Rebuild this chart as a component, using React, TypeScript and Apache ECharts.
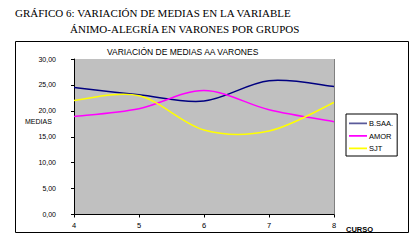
import React, { useEffect, useRef } from "react";
import * as echarts from "echarts";

const cursos = [4, 5, 6, 7, 8];
const bsaa = [24.5, 23.1, 21.9, 25.8, 24.7];
const amor = [18.9, 20.4, 23.9, 20.2, 17.9];
const sjt = [22.0, 22.9, 16.3, 16.1, 21.6];
const yTicks = [0, 5, 10, 15, 20, 25, 30];

const toPairs = (vals: number[]) => cursos.map((c, i) => [c, vals[i]]);

const LEGEND_ICON = "path://M0,0h18v0.01h-18z M0,3.6h18v1.6h-18z M0,8.99h18v0.01h-18z";

export default function App() {
  const ref = useRef<HTMLDivElement>(null);
  useEffect(() => {
    document.body.style.margin = "0";
    const chart = echarts.init(ref.current!, null, { renderer: "svg" });
    const mkSeries = (name: string, vals: number[], color: string) => ({
      name,
      type: "custom",
      data: toPairs(vals),
      encode: { x: 0, y: 1 },
      itemStyle: { color },
      clip: true,
      renderItem: (params: any, api: any) => {
        const i = params.dataIndex;
        const n = vals.length;
        if (i >= n - 1) return null;
        const pt = (j: number) => {
          const k = Math.max(0, Math.min(n - 1, j));
          return api.coord([cursos[k], vals[k]]);
        };
        const p0 = pt(i - 1);
        const p1 = pt(i);
        const p2 = pt(i + 1);
        const p3 = pt(i + 2);
        const t = 1 / 6;
        return {
          type: "bezierCurve",
          shape: {
            x1: p1[0],
            y1: p1[1],
            x2: p2[0],
            y2: p2[1],
            cpx1: p1[0] + (p2[0] - p0[0]) * t,
            cpy1: p1[1] + (p2[1] - p0[1]) * t,
            cpx2: p2[0] - (p3[0] - p1[0]) * t,
            cpy2: p2[1] - (p3[1] - p1[1]) * t,
          },
          style: { stroke: color, lineWidth: 1.5, fill: "none" },
        };
      },
    });
    chart.setOption({
      animation: false,
      backgroundColor: "#ffffff",
      grid: { left: 74, right: 83, top: 59, bottom: 27.5, containLabel: false, show: true, backgroundColor: "#c0c0c0", borderWidth: 0 },
      xAxis: {
        type: "value",
        min: 4,
        max: 8,
        interval: 1,
        axisLine: { show: true, lineStyle: { color: "#000", width: 1 } },
        axisTick: { show: true, length: 3, lineStyle: { color: "#000" } },
        axisLabel: { fontFamily: "Liberation Sans", fontSize: 7.5, color: "#000", margin: 7 },
        splitLine: { show: false },
      },
      yAxis: {
        type: "value",
        min: yTicks[0],
        max: yTicks[yTicks.length - 1],
        interval: 5,
        axisLine: { show: true, lineStyle: { color: "#000", width: 1 } },
        axisTick: { show: true, length: 3, lineStyle: { color: "#000" } },
        axisLabel: {
          fontFamily: "Liberation Sans",
          fontSize: 7,
          color: "#000",
          margin: 18,
          formatter: (v: number) => v.toFixed(2).replace(".", ","),
        },
        splitLine: { show: false },
      },
      legend: {
        orient: "vertical",
        left: 346,
        top: 114,
        padding: [5, 4, 3, 3],
        borderColor: "#000",
        borderWidth: 1,
        backgroundColor: "#fff",
        itemWidth: 18,
        itemHeight: 9,
        itemGap: 3.5,
        textStyle: { fontFamily: "Liberation Sans", fontSize: 7.5, color: "#000", padding: [0, 0, 0, -3] },
        data: [
          { name: "B.SAA.", icon: LEGEND_ICON, itemStyle: { color: "#5a5a9a" } },
          { name: "AMOR", icon: LEGEND_ICON },
          { name: "SJT", icon: LEGEND_ICON },
        ],
      },
      graphic: [
        { type: "rect", shape: { x: 15.5, y: 41.5, width: 393, height: 191 }, style: { fill: "none", stroke: "#000", lineWidth: 1 }, z: 100 },
        { type: "line", shape: { x1: 334.5, y1: 59, x2: 334.5, y2: 214.5 }, style: { stroke: "#808080", lineWidth: 1 } },
        { type: "text", x: 15, y: 13, style: { text: "GRÁFICO 6: VARIACIÓN DE MEDIAS EN LA VARIABLE", fontFamily: "Liberation Serif", fontSize: 11, fontWeight: "normal", fill: "#000", verticalAlign: "middle" } },
        { type: "text", x: 70, y: 29, style: { text: "ÁNIMO-ALEGRÍA EN VARONES POR GRUPOS", fontFamily: "Liberation Serif", fontSize: 11, fontWeight: "normal", fill: "#000", verticalAlign: "middle" } },
        { type: "text", x: 107, y: 52, style: { text: "VARIACIÓN DE MEDIAS AA VARONES", fontFamily: "Liberation Sans", fontSize: 8.5, fill: "#000", verticalAlign: "middle" } },
        { type: "text", x: 25, y: 121, style: { text: "MEDIAS", fontFamily: "Liberation Sans", fontSize: 7, fill: "#000", verticalAlign: "middle" } },
        { type: "text", x: 346, y: 229, style: { text: "CURSO", fontFamily: "Liberation Sans", fontSize: 7.5, fontWeight: "bold", fill: "#000", verticalAlign: "middle" } },
      ],
      series: [
        mkSeries("B.SAA.", bsaa, "#000080"),
        mkSeries("AMOR", amor, "#ff00ff"),
        mkSeries("SJT", sjt, "#ffff00"),
      ],
    });
    return () => chart.dispose();
  }, []);
  return <div ref={ref} style={{ width: 417, height: 242 }} />;
}
